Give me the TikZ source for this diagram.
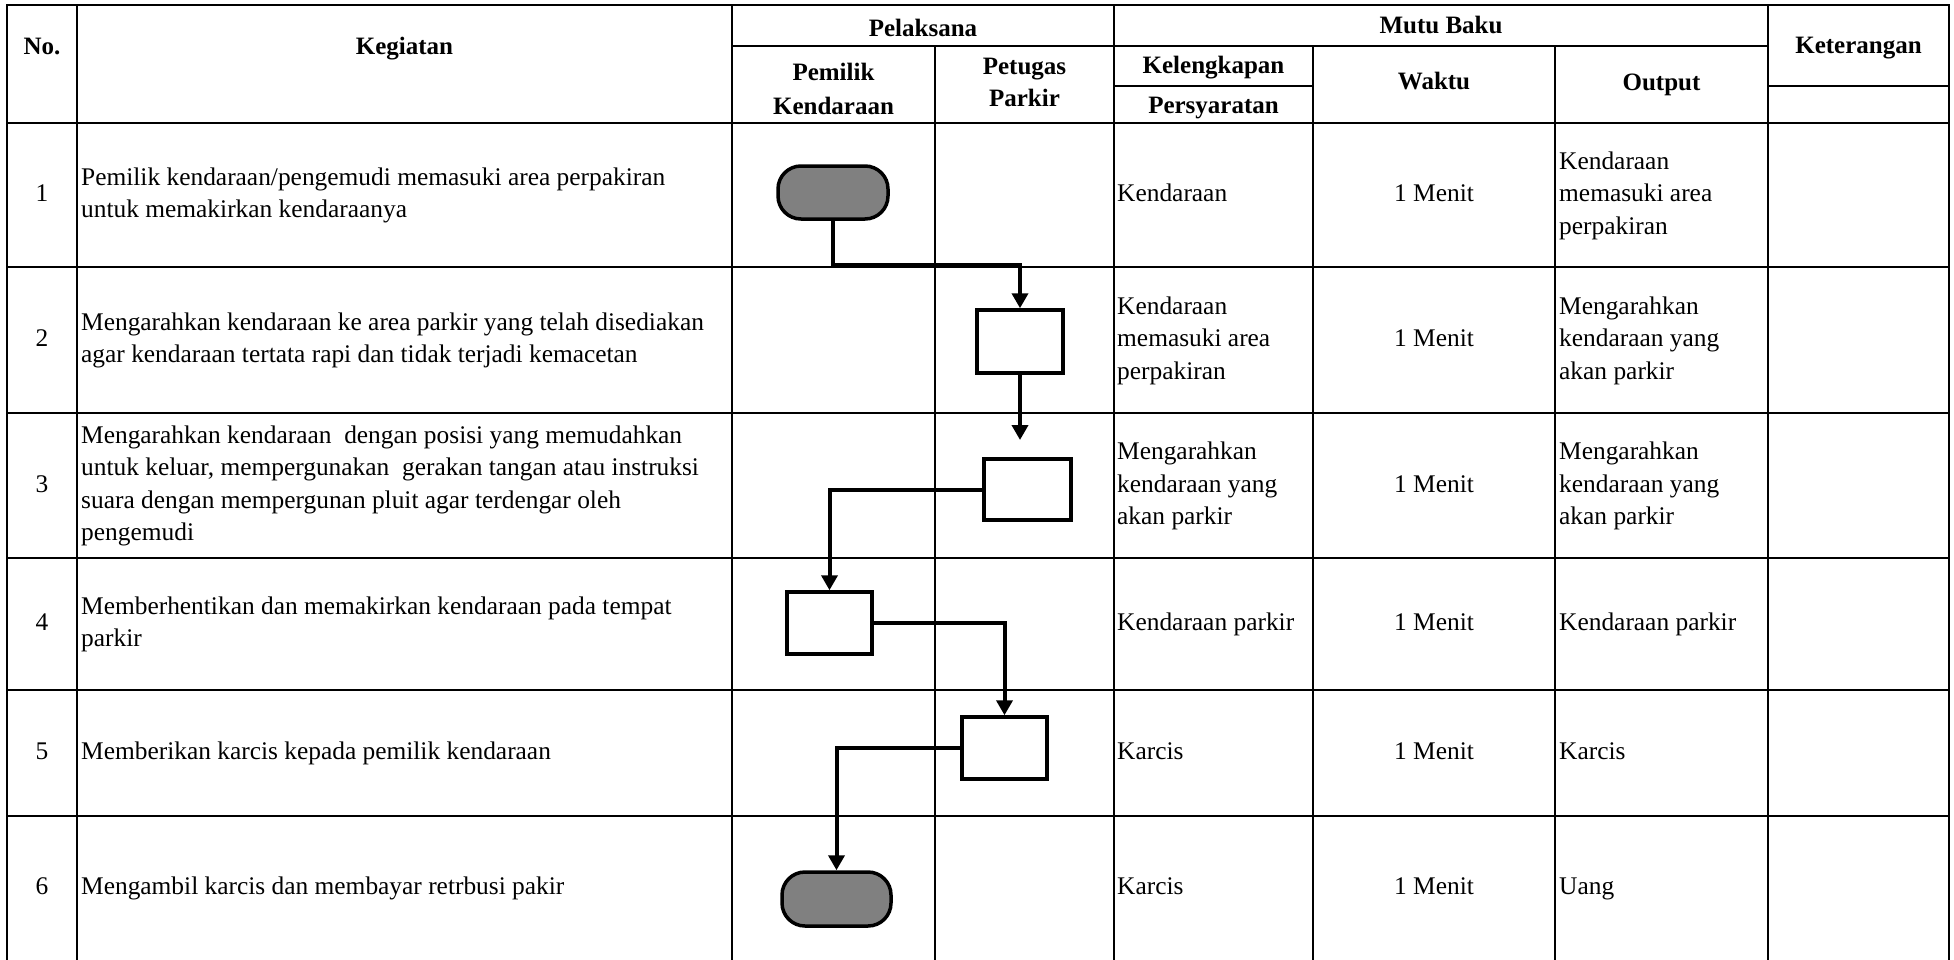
\documentclass[tikz,border=0pt]{standalone}
\usepackage{fontspec}
\setmainfont{Liberation Serif}
\usetikzlibrary{arrows.meta}
\definecolor{termgray}{HTML}{808080}
\begin{document}
\begin{tikzpicture}[x=1pt,y=-1pt,
  grid/.style={line width=2.8pt, line cap=rect},
  hd/.style={font=\bfseries\fontsize{25}{32}\selectfont, inner sep=0pt, align=center},
  tx/.style={font=\fontsize{25.4}{32.5}\selectfont, inner sep=0pt, align=left, anchor=west},
  ctr/.style={font=\fontsize{25.4}{32.5}\selectfont, inner sep=0pt, align=center},
  term/.style={draw, line width=3.5pt, fill=termgray, rounded corners=23pt, inner sep=0pt},
  proc/.style={draw, line width=3.5pt, fill=white, inner sep=0pt},
  arr/.style={line width=4pt, -{Triangle[width=16pt,length=15pt]}},
]
\useasboundingbox[fill=white] (0,0) rectangle (1954,959);

% ---- grid ----
\draw[grid] (7,5) -- (1949,5);
\draw[grid] (7,123) -- (1768,123);
\draw[grid] (1768,123) -- (1949,123);
\draw[grid] (732,46) -- (1768,46);
\draw[grid] (1114,86) -- (1313,86);
\draw[grid] (1768,86) -- (1949,86);
\foreach \yy in {267,413,558,690,816} {\draw[grid] (7,\yy) -- (1949,\yy);}
\foreach \xx in {7,77,732,1114,1768,1949} {\draw[grid] (\xx,5) -- (\xx,962);}
\foreach \xx in {935,1313,1555} {\draw[grid] (\xx,46) -- (\xx,962);}

% ---- header ----
\node[hd] (hno) at (42,48) {\strut No.};
\node[hd] (hkeg) at (404.5,48) {\strut Kegiatan};
\node[hd] (hpel) at (923,30) {\strut Pelaksana};
\node[hd] (hpem) at (833.5,91) {\strut Pemilik\\[2.5pt]\strut Kendaraan};
\node[hd] (hpet) at (1024.5,84) {\strut Petugas\\\strut Parkir};
\node[hd] (hmutu) at (1441,27) {\strut Mutu Baku};
\node[hd] (hkel) at (1213.5,67) {\strut Kelengkapan};
\node[hd] (hper) at (1213.5,107) {\strut Persyaratan};
\node[hd] (hwak) at (1434,83) {\strut Waktu};
\node[hd] (hout) at (1661.5,84) {\strut Output};
\node[hd] (hket) at (1858.5,47) {\strut Keterangan};

% ---- numbers ----
\node[ctr] (n1) at (42,195) {\strut 1};
\node[ctr] (n2) at (42,340) {\strut 2};
\node[ctr] (n3) at (42,485.5) {\strut 3};
\node[ctr] (n4) at (42,624) {\strut 4};
\node[ctr] (n5) at (42,753) {\strut 5};
\node[ctr] (n6) at (42,887.5) {\strut 6};

% ---- kegiatan ----
\node[tx] (k1) at (81,195) {\strut Pemilik kendaraan/pengemudi memasuki area perpakiran\\\strut untuk memakirkan kendaraanya};
\node[tx] (k2) at (81,340) {\strut Mengarahkan kendaraan ke area parkir yang telah disediakan\\\strut agar kendaraan tertata rapi dan tidak terjadi kemacetan};
\node[tx] (k3) at (81,485.5) {\strut Mengarahkan kendaraan\ \ dengan posisi yang memudahkan\\\strut untuk keluar, mempergunakan\ \ gerakan tangan atau instruksi\\\strut suara dengan mempergunan pluit agar terdengar oleh\\\strut pengemudi};
\node[tx] (k4) at (81,624) {\strut Memberhentikan dan memakirkan kendaraan pada tempat\\\strut parkir};
\node[tx] (k5) at (81,753) {\strut Memberikan karcis kepada pemilik kendaraan};
\node[tx] (k6) at (81,887.5) {\strut Mengambil karcis dan membayar retrbusi pakir};

% ---- kelengkapan ----
\node[tx] (p1) at (1117,195) {\strut Kendaraan};
\node[tx] (p2) at (1117,340) {\strut Kendaraan\\\strut memasuki area\\\strut perpakiran};
\node[tx] (p3) at (1117,485.5) {\strut Mengarahkan\\\strut kendaraan yang\\\strut akan parkir};
\node[tx] (p4) at (1117,624) {\strut Kendaraan parkir};
\node[tx] (p5) at (1117,753) {\strut Karcis};
\node[tx] (p6) at (1117,887.5) {\strut Karcis};

% ---- waktu ----
\node[ctr] (w1) at (1434,195) {\strut 1 Menit};
\node[ctr] (w2) at (1434,340) {\strut 1 Menit};
\node[ctr] (w3) at (1434,485.5) {\strut 1 Menit};
\node[ctr] (w4) at (1434,624) {\strut 1 Menit};
\node[ctr] (w5) at (1434,753) {\strut 1 Menit};
\node[ctr] (w6) at (1434,887.5) {\strut 1 Menit};

% ---- output ----
\node[tx] (o1) at (1559,195) {\strut Kendaraan\\\strut memasuki area\\\strut perpakiran};
\node[tx] (o2) at (1559,340) {\strut Mengarahkan\\\strut kendaraan yang\\\strut akan parkir};
\node[tx] (o3) at (1559,485.5) {\strut Mengarahkan\\\strut kendaraan yang\\\strut akan parkir};
\node[tx] (o4) at (1559,624) {\strut Kendaraan parkir};
\node[tx] (o5) at (1559,753) {\strut Karcis};
\node[tx] (o6) at (1559,887.5) {\strut Uang};

% ---- flowchart ----
\node[term, minimum width=110pt, minimum height=53pt] (t1) at (833,192.5) {};
\node[proc, minimum width=86pt, minimum height=63pt] (b2) at (1020,341.5) {};
\node[proc, minimum width=87pt, minimum height=61pt] (b3) at (1027.5,489.5) {};
\node[proc, minimum width=85pt, minimum height=62pt] (b4) at (829.5,623) {};
\node[proc, minimum width=85pt, minimum height=62pt] (b5) at (1004.5,748) {};
\node[term, minimum width=109pt, minimum height=54pt] (t6) at (836.5,899) {};

\coordinate (j1) at (0,265);
\coordinate (e2) at (0,440);

\draw[arr] (t1.south) -- (t1.south |- j1) -| (b2.north);
\draw[arr] (b2.south) -- (b2.south |- e2);
\draw[arr] (b3.west) -| (b4.north);
\draw[arr] (b4.east) -| (b5.north);
\draw[arr] (b5.west) -| (t6.north);
\end{tikzpicture}
\end{document}
